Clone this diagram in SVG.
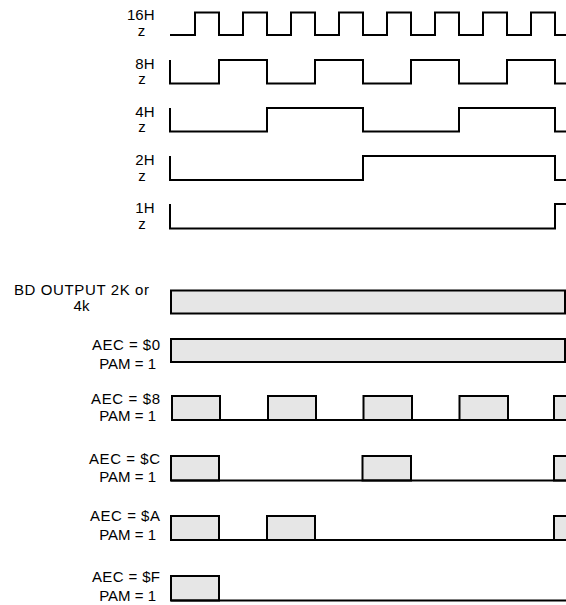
<svg xmlns="http://www.w3.org/2000/svg" width="566" height="605" viewBox="0 0 566 605">
<style>
text{font-family:"Liberation Sans",Arial,sans-serif;font-size:15px;fill:#000}
.e{text-anchor:end}
.m{text-anchor:middle}
.w{fill:none;stroke:#000;stroke-width:2}
.p{fill:#e6e6e6;stroke:#000;stroke-width:2}
</style>
<rect width="566" height="605" fill="#fff"/>
<g id="sig16H">
<text class="e" x="154.5" y="19.5">16H</text>
<text class="m" x="141.5" y="35.5">z</text>
<path class="w" d="M170,35 H195 V12.5 H219 V35 H243 V12.5 H267 V35 H291 V12.5 H315 V35 H339 V12.5 H363 V35 H387 V12.5 H411 V35 H435 V12.5 H459 V35 H483 V12.5 H507 V35 H531 V12.5 H555 V35 H567"/>
</g>
<g id="sig8H">
<text class="e" x="154.5" y="68.5">8H</text>
<text class="m" x="142" y="84">z</text>
<path class="w" d="M170,60 V83.5 H219 V60 H267 V83.5 H315 V60 H363 V83.5 H411 V60 H459 V83.5 H507 V60 H555 V83.5 H567"/>
</g>
<g id="sig4H">
<text class="e" x="154.5" y="116.5">4H</text>
<text class="m" x="142" y="132">z</text>
<path class="w" d="M170,108 V131.5 H267 V108 H363 V131.5 H459 V108 H555 V131.5 H567"/>
</g>
<g id="sig2H">
<text class="e" x="154.5" y="165">2H</text>
<text class="m" x="142" y="180.5">z</text>
<path class="w" d="M170,156 V180 H363 V156 H555 V180 H567"/>
</g>
<g id="sig1H">
<text class="e" x="154.5" y="213">1H</text>
<text class="m" x="142" y="229">z</text>
<path class="w" d="M170,204 V228.5 H555 V204 H567"/>
</g>
<g id="bd">
<text class="m" x="81.5" y="295" textLength="135" lengthAdjust="spacing">BD OUTPUT 2K or</text>
<text class="m" x="81.5" y="311">4k</text>
<rect class="p" x="171" y="290.5" width="394" height="23"/>
</g>
<g id="aec0">
<text class="e" x="160" y="349.5" textLength="68" lengthAdjust="spacing">AEC = $0</text>
<text class="e" x="156" y="368.5">PAM = 1</text>
<rect class="p" x="171" y="339" width="394" height="23"/>
</g>
<g id="aec8">
<text class="e" x="160" y="403.5" textLength="69" lengthAdjust="spacing">AEC = $8</text>
<text class="e" x="156" y="420.5">PAM = 1</text>
<rect class="p" x="172" y="396" width="48" height="24"/>
<rect class="p" x="268" y="396" width="48" height="24"/>
<rect class="p" x="363.5" y="396" width="48.5" height="24"/>
<rect class="p" x="459.5" y="396" width="48.5" height="24"/>
<rect class="p" x="554" y="396" width="20" height="24"/>
<path class="w" d="M171,420 H567"/>
</g>
<g id="aecC">
<text class="e" x="160" y="463.5" textLength="71" lengthAdjust="spacing">AEC = $C</text>
<text class="e" x="156" y="482">PAM = 1</text>
<rect class="p" x="171" y="456" width="48" height="24.5"/>
<rect class="p" x="362.5" y="456" width="48.5" height="24.5"/>
<rect class="p" x="554" y="456" width="20" height="24.5"/>
<path class="w" d="M171,480.5 H567"/>
</g>
<g id="aecA">
<text class="e" x="160" y="521" textLength="70" lengthAdjust="spacing">AEC = $A</text>
<text class="e" x="156" y="540">PAM = 1</text>
<rect class="p" x="171" y="516" width="48" height="24"/>
<rect class="p" x="267" y="516" width="48" height="24"/>
<rect class="p" x="554" y="516" width="20" height="24"/>
<path class="w" d="M171,540 H567"/>
</g>
<g id="aecF">
<text class="e" x="160" y="582" textLength="68" lengthAdjust="spacing">AEC = $F</text>
<text class="e" x="156" y="601">PAM = 1</text>
<rect class="p" x="171" y="576" width="48" height="24.5"/>
<path class="w" d="M171,600.5 H567"/>
</g>
</svg>
